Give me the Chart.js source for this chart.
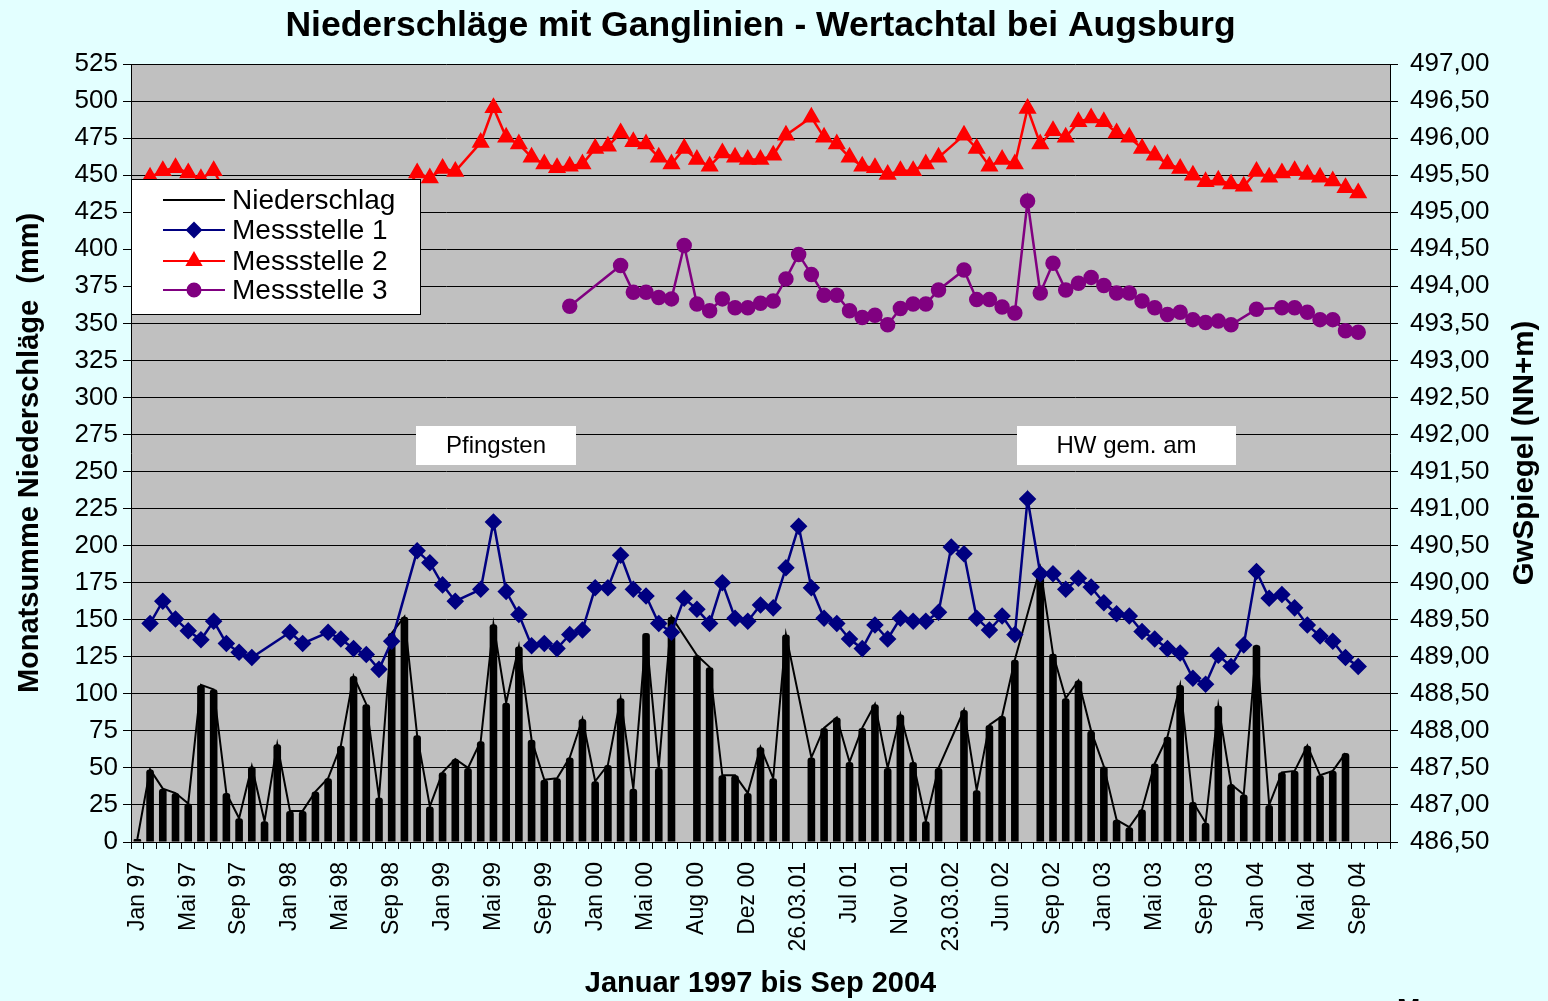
<!DOCTYPE html>
<html>
<head>
<meta charset="utf-8">
<title>Niederschläge mit Ganglinien - Wertachtal bei Augsburg</title>
<script src="https://cdn.jsdelivr.net/npm/chart.js@4.4.1/dist/chart.umd.min.js"></script>
<style>
  html, body { margin: 0; padding: 0; background: #E3FFFF; }
  #chart { display: block; }
</style>
</head>
<body>
<canvas id="chart" width="1548" height="1001"></canvas>
<script>
// tick labels, one every 4th category
const tickLabels = ['Jan 97', 'Mai 97', 'Sep 97', 'Jan 98', 'Mai 98', 'Sep 98', 'Jan 99', 'Mai 99', 'Sep 99',
    'Jan 00', 'Mai 00', 'Aug 00', 'Dez 00', '26.03.01', 'Jul 01', 'Nov 01', '23.03.02', 'Jun 02', 'Sep 02',
    'Jan 03', 'Mai 03', 'Sep 03', 'Jan 04', 'Mai 04', 'Sep 04'];

// Monatssumme Niederschlag (mm), left axis
const niederschlag = [
    2, 49, 36, 33, 26, 106, 103, 33, 16, 51,
    14, 66, 21, 21, 34, 43, 65, 112, 93, 30,
    141, 152, 72, 24, 47, 56, 50, 68, 147, 94,
    132, 69, 42, 43, 57, 83, 41, 52, 97, 36,
    141, 50, 152, null, 126, 118, 45, 45, 33, 64,
    43, 140, null, 57, 77, 84, 54, 77, 93, 50,
    86, 54, 14, 50, null, 89, 35, 79, 85, 123,
    null, 185, 127, 97, 109, 75, 51, 15, 10, 22,
    53, 71, 106, 27, 13, 92, 39, 32, 133, 25,
    47, 48, 65, 45, 48, 60, null, null, null
];

// GwSpiegel (NN+m), right axis
const messstelle1 = [
    null, 489.45, 489.75, 489.51, 489.35, 489.23, 489.48, 489.18, 489.06, 488.99,
    null, null, 489.33, 489.18, null, 489.33, 489.24, 489.11, 489.03, 488.83,
    489.21, null, 490.43, 490.27, 489.97, 489.75, null, 489.91, 490.82, 489.88,
    489.57, 489.15, 489.18, 489.11, 489.30, 489.36, 489.93, 489.93, 490.37, 489.91,
    489.82, 489.45, 489.33, 489.79, 489.64, 489.45, 490.00, 489.52, 489.48, 489.70,
    489.66, 490.20, 490.76, 489.93, 489.52, 489.45, 489.24, 489.11, 489.43, 489.24,
    489.52, 489.48, 489.48, 489.60, 490.48, 490.39, 489.52, 489.36, 489.55, 489.30,
    491.13, 490.12, 490.12, 489.91, 490.06, 489.94, 489.73, 489.58, 489.55, 489.34,
    489.24, 489.11, 489.05, 488.71, 488.63, 489.02, 488.87, 489.16, 490.15, 489.79,
    489.84, 489.66, 489.43, 489.28, 489.21, 488.99, 488.87, null, null
];

const messstelle2 = [
    null, 495.47, 495.56, 495.60, 495.53, 495.45, 495.56, 495.25, 495.20, 495.15,
    495.10, 495.15, 495.20, 495.15, 495.10, 495.10, 495.05, 495.15, 495.20, 495.10,
    495.20, 495.25, 495.53, 495.46, 495.59, 495.55, null, 495.94, 496.41, 496.01,
    495.92, 495.74, 495.65, 495.60, 495.62, 495.65, 495.86, 495.89, 496.07, 495.95,
    495.92, 495.74, 495.65, 495.86, 495.71, 495.62, 495.80, 495.74, 495.71, 495.71,
    495.77, 496.04, null, 496.28, 496.01, 495.92, 495.74, 495.62, 495.60, 495.51,
    495.56, 495.56, 495.65, 495.74, null, 496.04, 495.86, 495.62, 495.71, 495.65,
    496.40, 495.92, 496.10, 496.01, 496.22, 496.27, 496.22, 496.07, 496.01, 495.86,
    495.77, 495.65, 495.59, 495.50, 495.41, 495.43, 495.38, 495.35, 495.55, 495.47,
    495.53, 495.56, 495.51, 495.47, 495.42, 495.33, 495.26, null, null
];

const messstelle3 = [
    null, null, null, null, null, null, null, null, null, null,
    null, null, null, null, null, null, null, null, null, null,
    null, null, null, null, null, null, null, null, null, null,
    null, null, null, null, 493.73, null, null, null, 494.28, 493.92,
    493.92, 493.85, 493.83, 494.55, 493.76, 493.67, 493.83, 493.71, 493.71, 493.77,
    493.80, 494.10, 494.43, 494.16, 493.88, 493.88, 493.67, 493.58, 493.61, 493.48,
    493.70, 493.76, 493.76, 493.95, null, 494.22, 493.82, 493.82, 493.72, 493.64,
    495.15, 493.91, 494.31, 493.95, 494.04, 494.12, 494.01, 493.91, 493.91, 493.80,
    493.71, 493.62, 493.65, 493.55, 493.51, 493.53, 493.48, null, 493.69, null,
    493.71, 493.71, 493.65, 493.55, 493.55, 493.40, 493.38, null, null
];

const categories = niederschlag.map((_, i) => (i % 4 === 0 && tickLabels[i / 4]) ? tickLabels[i / 4] : '');

const FONT = '"Liberation Sans", Arial, sans-serif';
Chart.defaults.font.family = FONT;
Chart.defaults.color = '#000';

// background + gray plot area
const backgroundPlugin = {
    id: 'background',
    beforeDraw(chart) {
        const { ctx, chartArea: a } = chart;
        ctx.save();
        ctx.fillStyle = '#E3FFFF';
        ctx.fillRect(0, 0, chart.width, chart.height);
        ctx.fillStyle = '#C0C0C0';
        ctx.fillRect(a.left, a.top, a.right - a.left, a.bottom - a.top);
        ctx.restore();
    }
};

// legend box inside the plot, text boxes, right axis title
const overlayPlugin = {
    id: 'overlay',
    afterDraw(chart) {
        const { ctx, chartArea: a } = chart;
        ctx.save();

        // note boxes
        ctx.font = '24px ' + FONT;
        ctx.textAlign = 'center';
        ctx.textBaseline = 'middle';
        [['Pfingsten', 285, 160], ['HW gem. am', 886, 219]].forEach(([txt, dx, w]) => {
            ctx.fillStyle = '#fff';
            ctx.fillRect(a.left + dx, a.top + 362, w, 39);
            ctx.fillStyle = '#000';
            ctx.fillText(txt, a.left + dx + w / 2, a.top + 382);
        });

        // legend
        const x0 = a.left, y0 = a.top + 115, w = 289, h = 135;
        ctx.fillStyle = '#fff';
        ctx.fillRect(x0, y0, w, h);
        ctx.strokeStyle = '#000';
        ctx.lineWidth = 1;
        ctx.strokeRect(x0 + 0.5, y0 + 0.5, w, h);
        const rows = [21, 51, 82, 111];
        chart.data.datasets.filter(d => d.type === 'line').forEach((ds, k) => {
            const y = y0 + rows[k];
            ctx.strokeStyle = ds.borderColor;
            ctx.lineWidth = 2;
            ctx.beginPath();
            ctx.moveTo(x0 + 32, y);
            ctx.lineTo(x0 + 94, y);
            ctx.stroke();
            if (ds.pointRadius > 0) {
                ctx.fillStyle = ds.backgroundColor;
                Chart.helpers.drawPoint(ctx, { pointStyle: ds.pointStyle, radius: ds.pointRadius, rotation: 0, borderWidth: 1 }, x0 + 63, y);
            }
            ctx.fillStyle = '#000';
            ctx.font = '28px ' + FONT;
            ctx.textAlign = 'left';
            ctx.textBaseline = 'middle';
            ctx.fillText(ds.label, x0 + 101, y + 1);
        });

        // right axis title, reading upwards
        ctx.translate(1525, (a.top + a.bottom) / 2);
        ctx.rotate(-Math.PI / 2);
        ctx.font = 'bold 29.5px ' + FONT;
        ctx.textAlign = 'center';
        ctx.textBaseline = 'middle';
        ctx.fillStyle = '#000';
        ctx.fillText('GwSpiegel (NN+m)', 0, 0);
        ctx.restore();

        // cut-off text at the bottom edge
        ctx.save();
        ctx.font = 'bold 28px ' + FONT;
        ctx.textBaseline = 'top';
        ctx.fillStyle = '#000';
        ctx.fillText('Ma', 1397, 996);
        ctx.restore();
    }
};

new Chart(document.getElementById('chart'), {
    type: 'bar',
    data: {
        labels: categories,
        datasets: [
            {
                type: 'line',
                label: 'Niederschlag',
                data: niederschlag,
                yAxisID: 'y',
                borderColor: '#000',
                backgroundColor: '#000',
                borderWidth: 2,
                pointRadius: 0,
                spanGaps: true,
                order: 4
            },
            {
                type: 'line',
                label: 'Messstelle 1',
                data: messstelle1,
                yAxisID: 'y1',
                borderColor: '#000080',
                backgroundColor: '#000080',
                borderWidth: 2.5,
                pointStyle: 'rectRot',
                pointRadius: 7,
                spanGaps: true,
                order: 3
            },
            {
                type: 'line',
                label: 'Messstelle 2',
                data: messstelle2,
                yAxisID: 'y1',
                borderColor: '#FF0000',
                backgroundColor: '#FF0000',
                borderWidth: 2.5,
                pointStyle: 'triangle',
                pointRadius: 8,
                spanGaps: true,
                order: 2
            },
            {
                type: 'line',
                label: 'Messstelle 3',
                data: messstelle3,
                yAxisID: 'y1',
                borderColor: '#800080',
                backgroundColor: '#800080',
                borderWidth: 2.5,
                pointStyle: 'circle',
                pointRadius: 6.5,
                spanGaps: true,
                order: 1
            },
            {
                type: 'bar',
                label: 'Niederschlag Säulen',
                data: niederschlag,
                yAxisID: 'y',
                backgroundColor: '#000',
                barPercentage: 0.6,
                categoryPercentage: 1,
                borderRadius: { topLeft: 3, topRight: 3 },
                borderSkipped: 'bottom',
                order: 5
            }
        ]
    },
    options: {
        responsive: false,
        animation: false,
        layout: { padding: 0 },
        plugins: {
            legend: { display: false },
            tooltip: { enabled: false },
            title: {
                display: true,
                fullSize: false,
                text: 'Niederschläge mit Ganglinien - Wertachtal bei Augsburg',
                color: '#000',
                font: { size: 35.5, weight: 'bold' },
                padding: { top: 5, bottom: 16.4 }
            }
        },
        scales: {
            x: {
                offset: true,
                grid: { display: true, drawOnChartArea: false, color: '#000', tickLength: 7, offset: true },
                border: { color: '#000', width: 1 },
                ticks: {
                    autoSkip: false,
                    maxRotation: 90,
                    minRotation: 90,
                    padding: 13,
                    color: '#000',
                    font: { size: 23 }
                },
                title: {
                    display: true,
                    text: 'Januar 1997 bis Sep 2004',
                    color: '#000',
                    font: { size: 29, weight: 'bold' },
                    padding: { top: 0, bottom: 0 }
                },
                afterFit(scale) { scale.height = 159; }
            },
            y: {
                position: 'left',
                min: 0,
                max: 525,
                grid: { color: '#000', lineWidth: 1, tickLength: 8 },
                border: { color: '#000', width: 1 },
                ticks: { stepSize: 25, padding: 5, color: '#000', font: { size: 26 } },
                title: {
                    display: true,
                    text: 'Monatsumme Niederschläge  (mm)',
                    color: '#000',
                    font: { size: 29, weight: 'bold' },
                    padding: { top: 13, bottom: 0 }
                },
                afterFit(scale) { scale.width = 131; }
            },
            y1: {
                position: 'right',
                min: 486.5,
                max: 497,
                grid: { drawOnChartArea: false, color: '#000', tickLength: 8 },
                border: { color: '#000', width: 1 },
                ticks: {
                    stepSize: 0.5,
                    padding: 12,
                    color: '#000',
                    font: { size: 26 },
                    callback: function (value) {
                        return value.toFixed(2).replace('.', ',');
                    }
                },
                afterFit(scale) { scale.width = 158; }
            }
        }
    },
    plugins: [backgroundPlugin, overlayPlugin]
});
</script>
</body>
</html>
